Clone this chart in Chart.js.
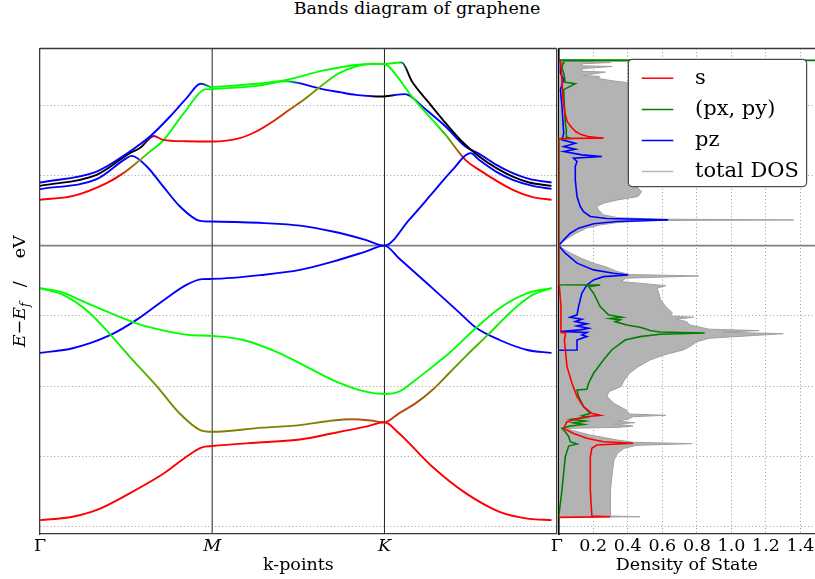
<!DOCTYPE html>
<html>
<head>
<meta charset="utf-8">
<script src="https://cdn.jsdelivr.net/npm/chart.js@4/dist/chart.umd.min.js"></script>
<style>
  html, body { margin: 0; padding: 0; background: #fff; }
  #wrap { position: relative; width: 815px; height: 579px; overflow: hidden; }
  #wrap canvas { position: absolute; left: 0; top: 0; }
  #title { position: absolute; left: 0; top: -2px; width: 834px; text-align: center;
           font: 17.5px 'DejaVu Serif', 'Liberation Serif', serif; line-height: 20px; color: #000; }
</style>
</head>
<body>
<div id="wrap">
  <div id="title">Bands diagram of graphene</div>
  <canvas id="bands" width="815" height="579"></canvas>
  <canvas id="dos" width="815" height="579"></canvas>
</div>
<script>
// ---- axes ----
const kTicks = [0, 1, 2, 3];
const kLabels = ['Γ', 'M', 'K', 'Γ'];
const energyTicks = [-20, -15, -10, -5, 5, 10];
const dosTicks = [0, 0.2, 0.4, 0.6, 0.8, 1.0, 1.2, 1.4];

// ---- band curves along Γ-M-K-Γ, [k, E - Ef (eV)] ----
const valenceS = [[0,-19.54],[0.19,-19.30],[0.33,-18.82],[0.52,-17.64],[0.72,-16.21],[0.85,-15.03],[0.94,-14.36],[1.0,-14.27],[1.29,-14.0],[1.51,-13.8],[1.70,-13.36],[1.89,-12.89],[2.0,-12.58],[2.084,-13.36],[2.278,-15.74],[2.474,-17.64],[2.668,-18.95],[2.84,-19.45],[2.97,-19.54]];
const valenceSigmaLow = [[0,-3.03],[0.135,-3.51],[0.29,-4.81],[0.41,-6.36],[0.52,-7.9],[0.68,-10.04],[0.81,-11.94],[0.93,-13.13],[1.0,-13.25],[1.29,-12.96],[1.50,-12.8],[1.70,-12.45],[1.81,-12.36],[1.92,-12.45],[2.0,-12.58],[2.084,-11.94],[2.18,-11.23],[2.278,-10.28],[2.375,-9.09],[2.47,-7.9],[2.6,-6.36],[2.746,-4.58],[2.86,-3.51],[2.97,-3.03]];
const valenceSigmaHigh = [[0,-3.03],[0.135,-3.35],[0.23,-3.87],[0.41,-4.81],[0.56,-5.53],[0.72,-6.05],[0.87,-6.36],[1.0,-6.43],[1.18,-6.72],[1.37,-7.55],[1.51,-8.38],[1.70,-9.57],[1.89,-10.4],[2.0,-10.56],[2.084,-10.4],[2.18,-9.57],[2.278,-8.62],[2.375,-7.66],[2.53,-5.88],[2.668,-4.46],[2.83,-3.39],[2.97,-3.03]];
const valencePi = [[0,-7.64],[0.19,-7.31],[0.41,-6.36],[0.56,-5.29],[0.72,-3.87],[0.85,-2.8],[0.94,-2.39],[1.0,-2.37],[1.29,-2.09],[1.51,-1.73],[1.70,-1.14],[1.89,-0.43],[2.0,0],[2.084,-0.9],[2.278,-3.03],[2.435,-4.77],[2.53,-5.83],[2.668,-6.72],[2.83,-7.43],[2.97,-7.64]];
const condUpperBlue = [[0,4.49],[0.329,5.27],[0.522,6.70],[0.638,7.76],[0.755,9.19],[0.851,10.5],[0.933,11.52],[1.0,11.25]];
const condBlackRed = [[0,4.25],[0.329,5.04],[0.522,6.58],[0.58,6.94],[0.638,7.65],[0.66,7.8],[0.716,7.53],[0.85,7.43],[1.0,7.41],[1.16,7.65],[1.256,8.12],[1.352,8.83],[1.448,9.67],[1.545,10.5],[1.641,11.45],[1.737,12.28],[1.833,12.75],[1.93,12.94],[2.0,12.92]];
const condRed = [[0,3.26],[0.193,3.54],[0.387,4.45],[0.484,5.16],[0.561,5.90],[0.639,6.70],[0.716,7.48],[0.832,9.38],[0.968,11.14],[1.0,11.12]];
const condPiStar = [[0,4.02],[0.329,4.73],[0.503,6.23],[0.532,6.39],[0.62,5.63],[0.716,4.2],[0.813,2.78],[0.929,1.76],[1.0,1.71],[1.3,1.6],[1.51,1.42],[1.70,1.0],[1.89,0.41],[2.0,0],[2.143,1.83],[2.278,3.73],[2.395,5.39],[2.5,6.58],[2.55,6.1],[2.65,5.25],[2.745,4.68],[2.86,4.25],[2.97,4.04]];
const condGreenTop = [[1.0,11.28],[1.256,11.52],[1.43,11.8],[1.64,12.45],[1.737,12.68],[1.833,12.86],[1.93,12.93],[2.0,12.92]];
const condGreenBlue = [[1.0,11.14],[1.256,11.37],[1.43,11.7],[1.49,11.6],[1.64,11.14],[1.737,10.93],[1.833,10.73],[1.93,10.63],[2.0,10.61]];
const condBlackDown = [[2.0,12.92],[2.1,13.03],[2.16,11.68],[2.26,10.14],[2.355,8.72],[2.45,7.41],[2.55,6.34],[2.65,5.51],[2.745,4.91],[2.84,4.49],[2.97,4.25]];
const condGreenRed = [[2.0,12.92],[2.025,12.75],[2.16,10.61],[2.26,9.19],[2.355,7.88],[2.47,6.1],[2.55,5.39],[2.745,3.97],[2.86,3.45],[2.97,3.26]];
const condBlueUp = [[2.0,10.61],[2.06,10.72],[2.12,10.78],[2.16,10.55],[2.22,9.9],[2.355,8.48],[2.47,7.05],[2.55,6.53],[2.65,5.75],[2.745,5.16],[2.84,4.75],[2.97,4.49]];

// ---- projected density of states, [E - Ef (eV), DOS] ----
const dosS = [[-19.35,0],[-19.3,0.298],[-19.25,0.192],[-17.4,0.183],[-15.03,0.183],[-14.43,0.192],[-14.2,0.221],[-14.07,0.432],[-13.96,0.259],[-13.72,0.163],[-13.37,0.086],[-13.01,0.029],[-12.54,0.048],[-12.18,0.154],[-12.08,0.24],[-11.94,0.192],[-11.46,0.144],[-10.75,0.106],[-9.8,0.077],[-8.62,0.048],[-6.72,0.033],[-6.22,0.04],[-6.19,0.01],[-4.34,0.013],[-2.92,0.004],[-2.8,0],[7.62,0],[7.65,0.26],[7.7,0.22],[7.76,0.17],[7.9,0.13],[8.1,0.10],[8.4,0.075],[8.8,0.05],[9.5,0.035],[10.5,0.025],[11.5,0.02],[12.5,0.015],[13.15,0.01],[13.2,0]];
const dosPxPy = [[-19.3,0],[-17.4,0.019],[-15.03,0.038],[-14.27,0.058],[-14.12,0.106],[-13.96,0.067],[-13.6,0.058],[-13.25,0.038],[-13.01,0.019],[-12.84,0.067],[-12.73,0.144],[-12.61,0.086],[-12.49,0.154],[-12.36,0.077],[-12.23,0.163],[-12.11,0.134],[-11.94,0.183],[-11.46,0.144],[-10.75,0.115],[-10.28,0.106],[-10.23,0.163],[-9.8,0.173],[-9.09,0.202],[-8.14,0.259],[-7.43,0.307],[-6.72,0.384],[-6.48,0.471],[-6.31,0.586],[-6.22,0.845],[-6.15,0.586],[-6.05,0.528],[-5.95,0.509],[-5.81,0.471],[-5.65,0.394],[-5.41,0.327],[-5.29,0.355],[-5.19,0.298],[-5.10,0.365],[-4.93,0.288],[-4.34,0.24],[-3.39,0.202],[-2.92,0.173],[-2.81,0.24],[-2.79,0],[7.60,0],[7.62,0.067],[7.72,0.048],[8.24,0.044],[8.72,0.038],[9.91,0.033],[11.1,0.029],[11.52,0.096],[11.62,0.038],[12.28,0.029],[12.63,0.019],[12.99,0.025],[13.15,0.029],[13.18,2.0],[13.2,0]];
const dosPz = [[-7.45,0],[-7.43,0.106],[-7.19,0.106],[-6.72,0.106],[-6.48,0.163],[-6.36,0.134],[-6.19,0.163],[-6.12,0.01],[-6.00,0.125],[-5.88,0.173],[-5.72,0.106],[-5.57,0.163],[-5.41,0.096],[-5.24,0.134],[-5.10,0.067],[-4.93,0.106],[-4.34,0.115],[-3.39,0.134],[-2.80,0.163],[-2.44,0.202],[-2.21,0.259],[-2.09,0.403],[-1.97,0.317],[-1.73,0.202],[-1.25,0.106],[-0.54,0.038],[0,0],[0.41,0.029],[0.88,0.067],[1.24,0.115],[1.55,0.202],[1.71,0.336],[1.83,0.634],[1.93,0.279],[2.07,0.183],[2.42,0.144],[2.78,0.125],[3.49,0.106],[4.68,0.096],[5.63,0.096],[5.99,0.106],[6.22,0.086],[6.34,0.25],[6.46,0.134],[6.70,0.029],[6.86,0.096],[7.05,0.029],[7.29,0.096],[7.53,0.019],[8.0,0.029],[9.91,0.019],[11.1,0.01],[11.81,0.029],[12.28,0.01],[13.11,0.01],[13.2,0]];
const dosTotal = [[-19.35,0],[-19.30,0.47],[-19.25,0.30],[-17.40,0.30],[-16.21,0.31],[-15.26,0.32],[-14.79,0.34],[-14.43,0.38],[-14.22,0.45],[-14.10,0.77],[-14.00,0.43],[-13.84,0.34],[-13.48,0.18],[-13.13,0.07],[-13.01,0.05],[-12.94,0.34],[-12.84,0.43],[-12.70,0.32],[-12.61,0.44],[-12.49,0.34],[-12.36,0.40],[-12.18,0.43],[-12.08,0.62],[-11.99,0.41],[-11.70,0.39],[-11.23,0.32],[-10.75,0.28],[-10.40,0.29],[-10.04,0.36],[-9.57,0.38],[-9.09,0.41],[-8.62,0.46],[-8.14,0.53],[-7.78,0.61],[-7.43,0.72],[-7.19,0.76],[-6.84,0.80],[-6.60,0.87],[-6.36,1.18],[-6.27,1.30],[-6.17,0.95],[-6.05,1.16],[-5.95,0.87],[-5.65,0.76],[-5.41,0.74],[-5.24,0.68],[-5.10,0.78],[-5.01,0.64],[-4.81,0.66],[-4.34,0.62],[-3.87,0.59],[-3.39,0.58],[-3.03,0.57],[-2.85,0.62],[-2.75,0.53],[-2.56,0.36],[-2.32,0.39],[-2.16,0.81],[-2.06,0.41],[-1.85,0.34],[-1.50,0.27],[-1.25,0.20],[-0.90,0.13],[-0.54,0.07],[-0.19,0.02],[0,0],[0.41,0.04],[0.88,0.10],[1.24,0.16],[1.47,0.24],[1.64,0.34],[1.78,0.53],[1.83,1.36],[1.88,0.59],[1.99,0.34],[2.19,0.26],[2.54,0.23],[2.78,0.22],[3.02,0.26],[3.25,0.34],[3.49,0.46],[3.85,0.48],[4.20,0.45],[4.8,0.48],[5.5,0.5],[6.2,0.55],[6.8,0.6],[7.3,0.65],[7.62,0.7],[7.65,1.1],[7.7,0.75],[8.2,0.62],[9.0,0.55],[10.0,0.52],[10.6,0.6],[10.75,0.9],[10.9,0.6],[11.1,0.75],[11.2,1.2],[11.35,0.55],[11.57,0.42],[11.75,0.3],[11.92,0.22],[12.04,0.24],[12.1,0.14],[12.35,0.27],[12.42,0.13],[12.6,0.14],[12.75,0.31],[12.8,0.13],[12.95,0.14],[13.03,0.30],[13.1,0.12],[13.16,0.2],[13.18,2.0],[13.2,0.2],[13.23,0]];

// ---- styling ----
const FONT = "'DejaVu Serif', 'Liberation Serif', serif";
const RED = '#ff0000', GREEN = '#00ff00', BLUE = '#0000ff', BLACK = '#000000', OLIVE = '#808000';
const FRAME = '#3a3a3a', GRID = '#9a9a9a';

// orbital character along each curve, as colour stops in k
const bandLines = [
  { rows: valenceS,         stops: [[0, RED]] },
  { rows: valenceSigmaLow,  stops: [[0, GREEN],[0.42, GREEN],[0.7,'#7a8c00'],[0.9, OLIVE],[1.65, OLIVE],[1.85,'#a85818'],[2.0,'#c83c10'],[2.15,'#b04a10'],[2.35, OLIVE],[2.55,'#40c000'],[2.68, GREEN],[3, GREEN]] },
  { rows: valenceSigmaHigh, stops: [[0, GREEN]] },
  { rows: valencePi,        stops: [[0, BLUE]] },
  { rows: condUpperBlue,    stops: [[0, BLUE],[0.92, BLUE],[0.97,'#008080'],[1.0, GREEN],[3, GREEN]] },
  { rows: condBlackRed,     stops: [[0, BLACK],[0.6, BLACK],[0.655,'#800080'],[0.7, RED],[1.3, RED],[1.45,'#b05000'],[1.55, OLIVE],[1.65,'#60c000'],[1.72, GREEN],[3, GREEN]] },
  { rows: condRed,          stops: [[0, RED],[0.45, RED],[0.53,'#b06000'],[0.6,'#70b000'],[0.66, GREEN],[3, GREEN]] },
  { rows: condPiStar,       stops: [[0, BLUE]] },
  { rows: condGreenTop,     stops: [[0, GREEN]] },
  { rows: condGreenBlue,    stops: [[0, GREEN],[1.42, GREEN],[1.47,'#008080'],[1.52, BLUE],[1.92, BLUE],[1.95, BLACK],[3, BLACK]] },
  { rows: condBlackDown,    stops: [[0, GREEN],[2.08, GREEN],[2.11,'#006060'],[2.14, BLACK],[3, BLACK]] },
  { rows: condGreenRed,     stops: [[0, GREEN],[2.3, GREEN],[2.4, OLIVE],[2.47, RED],[3, RED]] },
  { rows: condBlueUp,       stops: [[0, BLACK],[2.03, BLACK],[2.06, BLUE],[2.14, BLUE],[2.16,'#008080'],[2.19, BLUE],[3, BLUE]] }
];

function bandStroke(stops) {
  return (c) => {
    const chart = c.chart, xs = chart.scales && chart.scales.x;
    if (stops.length === 1 || !chart.chartArea || !xs) return stops[0][1];
    const g = chart.ctx.createLinearGradient(xs.getPixelForValue(0), 0, xs.getPixelForValue(3), 0);
    stops.forEach(([k, col]) => g.addColorStop(Math.min(1, Math.max(0, k / 3)), col));
    return g;
  };
}

const fixTicks = (values) => (axis) => { axis.ticks = values.map(v => ({ value: v })); };

function drawEnergyLabel(ctx, cx, cy) {
  const it = `italic 17.5px ${FONT}`, rm = `17.5px ${FONT}`, sb = `italic 12.5px ${FONT}`;
  ctx.save();
  ctx.translate(cx, cy);
  ctx.rotate(-Math.PI / 2);
  ctx.fillStyle = '#000';
  ctx.textBaseline = 'alphabetic';
  ctx.textAlign = 'left';
  const base = 6.5;
  let tx = -56;
  const put = (s, f, dy) => { ctx.font = f; ctx.fillText(s, tx, base + dy); tx += ctx.measureText(s).width; };
  put('E', it, 0); put('\u2212', rm, 0); put('E', it, 0); put('f', sb, 4);
  ctx.font = rm;
  ctx.fillText('/', 4, base);
  ctx.fillText('eV', 56 - ctx.measureText('eV').width, base);
  ctx.restore();
}

function hLine(ctx, area, y, colour, width) {
  ctx.save(); ctx.strokeStyle = colour; ctx.lineWidth = width;
  ctx.beginPath(); ctx.moveTo(area.left, y); ctx.lineTo(area.right, y); ctx.stroke(); ctx.restore();
}
function vLine(ctx, area, x, colour, width) {
  ctx.save(); ctx.strokeStyle = colour; ctx.lineWidth = width;
  ctx.beginPath(); ctx.moveTo(x, area.top); ctx.lineTo(x, area.bottom); ctx.stroke(); ctx.restore();
}

const bandsDecor = {
  id: 'bandsDecor',
  beforeDatasetsDraw(chart) {
    const { ctx, chartArea, scales } = chart;
    hLine(ctx, chartArea, scales.y.getPixelForValue(0), '#808080', 1.6);
    vLine(ctx, chartArea, scales.x.getPixelForValue(1), '#555', 1.3);
    vLine(ctx, chartArea, scales.x.getPixelForValue(2), '#222', 1);
  },
  afterDraw(chart) {
    const { ctx, chartArea } = chart;
    hLine(ctx, chartArea, chartArea.top, FRAME, 1.3);
    vLine(ctx, chartArea, chartArea.right, FRAME, 1.3);
    drawEnergyLabel(ctx, 18.5, (chartArea.top + chartArea.bottom) / 2);
  }
};

const dosDecor = {
  id: 'dosDecor',
  beforeDatasetsDraw(chart) {
    const { ctx, chartArea, scales } = chart;
    hLine(ctx, chartArea, scales.y.getPixelForValue(0), '#808080', 1.6);
  },
  afterDraw(chart) {
    const { ctx, chartArea } = chart;
    hLine(ctx, chartArea, chartArea.top, FRAME, 1.3);
    // legend box
    const x = chartArea.left + 69.6, y = chartArea.top + 10.8, w = 178.4, h = 127.4, r = 4;
    ctx.save();
    ctx.beginPath();
    ctx.moveTo(x + r, y); ctx.lineTo(x + w - r, y); ctx.quadraticCurveTo(x + w, y, x + w, y + r);
    ctx.lineTo(x + w, y + h - r); ctx.quadraticCurveTo(x + w, y + h, x + w - r, y + h);
    ctx.lineTo(x + r, y + h); ctx.quadraticCurveTo(x, y + h, x, y + h - r);
    ctx.lineTo(x, y + r); ctx.quadraticCurveTo(x, y, x + r, y); ctx.closePath();
    ctx.fillStyle = '#fff'; ctx.fill();
    ctx.strokeStyle = '#222'; ctx.lineWidth = 1; ctx.stroke();
    ctx.font = `21px ${FONT}`; ctx.textBaseline = 'middle'; ctx.textAlign = 'left'; ctx.fillStyle = '#000';
    chart.data.datasets.forEach((ds, i) => {
      const ry = y + 19 + i * 31.1;
      ctx.strokeStyle = ds.legendColour || ds.borderColor; ctx.lineWidth = 1.5;
      ctx.beginPath(); ctx.moveTo(x + 13.4, ry); ctx.lineTo(x + 45, ry); ctx.stroke();
      ctx.fillText(ds.label, x + 66.7, ry);
    });
    ctx.restore();
  }
};

const bandPoints = (rows) => rows.map(([k, e]) => ({ x: k, y: e }));
const dosPoints = (rows) => rows.map(([e, d]) => ({ x: d, y: e }));

// ---- band structure ----
new Chart(document.getElementById('bands'), {
  type: 'line',
  data: {
    datasets: bandLines.map(b => ({
      data: bandPoints(b.rows),
      borderColor: bandStroke(b.stops),
      borderWidth: 1.9,
      pointRadius: 0,
      fill: false,
      cubicInterpolationMode: 'monotone'
    }))
  },
  options: {
    responsive: false, animation: false, devicePixelRatio: 1,
    layout: { padding: { left: 0, right: 815 - 556.7, top: 48.5, bottom: 0 } },
    plugins: { legend: { display: false }, tooltip: { enabled: false } },
    scales: {
      x: {
        type: 'linear', min: 0, max: 3,
        afterBuildTicks: fixTicks(kTicks),
        afterFit: (s) => { s.height = 45; },
        ticks: {
          autoSkip: false, maxRotation: 0, padding: 2, color: '#000',
          callback: (v) => kLabels[kTicks.indexOf(v)],
          font: (c) => ({ family: FONT, size: 17.5, style: (c.tick && (c.tick.value === 1 || c.tick.value === 2)) ? 'italic' : 'normal' })
        },
        grid: { display: false, drawTicks: false },
        border: { display: true, color: FRAME, width: 1.3 },
        title: { display: true, text: 'k-points', color: '#000', font: { family: FONT, size: 17.5 }, padding: { top: 0, bottom: 3 } }
      },
      y: {
        type: 'linear', min: -20.53, max: 14.03,
        afterBuildTicks: fixTicks(energyTicks),
        afterFit: (s) => { s.width = 40; },
        ticks: { display: false },
        grid: { color: GRID, lineWidth: 1, drawTicks: false },
        border: { display: true, color: FRAME, width: 1.3, dash: [1, 2.5] }
      }
    }
  },
  plugins: [bandsDecor]
});

// ---- density of states ----
new Chart(document.getElementById('dos'), {
  type: 'line',
  data: {
    datasets: [
      { label: 's', data: dosPoints(dosS), borderColor: RED, borderWidth: 1.6, pointRadius: 0, fill: false },
      { label: '(px, py)', data: dosPoints(dosPxPy), borderColor: '#008000', borderWidth: 1.6, pointRadius: 0, fill: false },
      { label: 'pz', data: dosPoints(dosPz), borderColor: BLUE, borderWidth: 1.6, pointRadius: 0, fill: false },
      { label: 'total DOS', data: dosPoints(dosTotal), borderColor: '#a0a0a0', legendColour: '#bbbbbb', backgroundColor: '#b3b3b3', borderWidth: 1, pointRadius: 0, fill: 'origin' }
    ]
  },
  options: {
    indexAxis: 'y',
    responsive: false, animation: false, devicePixelRatio: 1,
    layout: { padding: { left: 540, right: 0, top: 48.5, bottom: 0 } },
    plugins: { legend: { display: false }, tooltip: { enabled: false } },
    scales: {
      x: {
        type: 'linear', min: 0, max: 1.484, z: 1,
        afterBuildTicks: fixTicks(dosTicks),
        afterFit: (s) => { s.height = 45; s.paddingLeft = 0; s.paddingRight = 0; },
        ticks: {
          autoSkip: false, maxRotation: 0, padding: 2, color: '#000',
          callback: (v) => v === 0 ? '' : v.toFixed(1),
          font: { family: FONT, size: 17.5 }
        },
        grid: { color: (c) => (c.tick && c.tick.value === 0) ? 'rgba(0,0,0,0)' : GRID, lineWidth: 1, drawTicks: false },
        border: { display: true, color: FRAME, width: 1.3, dash: [1, 2.5] },
        title: { display: true, text: 'Density of State', color: '#000', font: { family: FONT, size: 17.5 }, padding: { top: 0, bottom: 3 } }
      },
      y: {
        type: 'linear', min: -20.53, max: 14.03, z: 1,
        afterBuildTicks: fixTicks(energyTicks),
        afterFit: (s) => { s.width = 18.7; },
        ticks: { display: false },
        grid: { color: GRID, lineWidth: 1, drawTicks: false },
        border: { display: true, color: '#000', width: 1.6, dash: [1, 2.5] }
      }
    }
  },
  plugins: [dosDecor]
});
</script>
</body>
</html>
